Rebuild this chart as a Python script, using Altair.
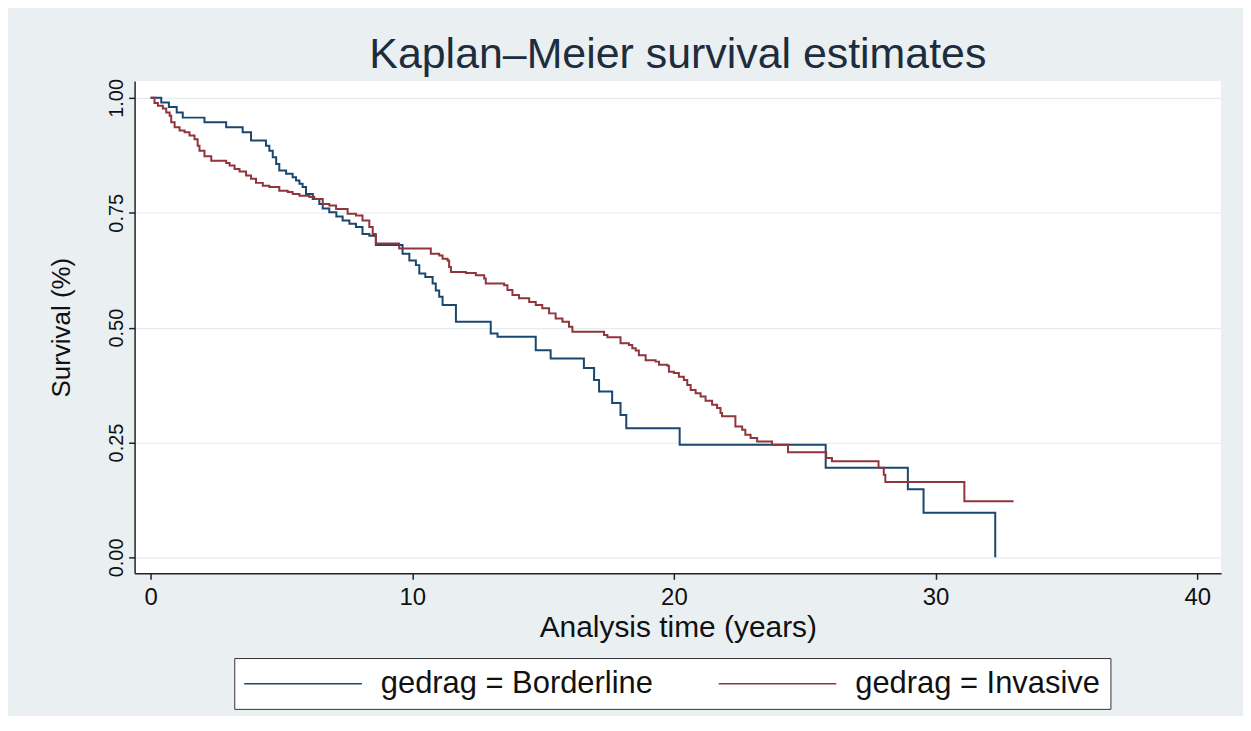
import altair as alt
import pandas as pd

# Borderline (blue) Kaplan-Meier steps
border_t = [0, 0.41, 0.7, 1.0, 1.23, 2.06, 2.89, 3.52, 3.84, 4.41, 4.54, 4.67, 4.8, 4.92,
            5.18, 5.43, 5.56, 5.69, 5.81, 5.94, 6.2, 6.45, 6.58, 6.83, 7.1, 7.34, 7.6, 7.85,
            8.1, 8.36, 8.61, 9.63, 9.89, 10.14, 10.27, 10.5, 10.78, 10.9, 11.03, 11.16, 11.67,
            13.0, 13.26, 14.72, 15.29, 16.56, 16.95, 17.14, 17.64, 17.96, 18.18, 20.22, 25.8,
            28.94, 29.54, 32.28]
border_s = [1.0, 0.99, 0.98, 0.968, 0.957, 0.947, 0.936, 0.925, 0.907, 0.896, 0.885, 0.871,
            0.856, 0.842, 0.835, 0.827, 0.82, 0.813, 0.806, 0.791, 0.78, 0.769, 0.759, 0.751,
            0.742, 0.733, 0.726, 0.719, 0.704, 0.70, 0.68, 0.661, 0.646, 0.636, 0.618, 0.61,
            0.596, 0.581, 0.567, 0.549, 0.513, 0.487, 0.48, 0.451, 0.433, 0.412, 0.386, 0.361,
            0.336, 0.31, 0.281, 0.245, 0.195, 0.148, 0.097, 0.0]

# Invasive (red) Kaplan-Meier steps
inv_t = [0, 0.15, 0.28, 0.47, 0.6, 0.73, 0.79, 0.92, 1.11, 1.3, 1.49, 1.68, 1.8, 1.87, 2.06,
         2.32, 2.89, 3.02, 3.21, 3.4, 3.65, 3.84, 4.03, 4.29, 4.54, 4.92, 5.24, 5.43, 5.69,
         6.07, 6.26, 6.58, 6.83, 7.09, 7.53, 7.85, 8.1, 8.36, 8.49, 8.61, 9.5, 10.71, 11.03,
         11.16, 11.35, 11.41, 11.48, 12.05, 12.43, 12.75, 12.81, 13.51, 13.64, 13.83, 14.08,
         14.47, 14.72, 14.97, 15.23, 15.48, 15.74, 15.99, 16.12, 17.33, 17.46, 17.96, 18.28,
         18.41, 18.54, 18.66, 18.92, 19.3, 19.43, 19.75, 19.81, 20.0, 20.19, 20.38, 20.51,
         20.64, 20.83, 21.02, 21.21, 21.46, 21.65, 21.78, 21.84, 22.35, 22.61, 22.73, 22.93,
         23.18, 23.75, 24.36, 25.82, 26.04, 27.82, 28.02, 28.08, 31.1, 32.98]
inv_s = [1.0, 0.989, 0.983, 0.977, 0.968, 0.961, 0.947, 0.936, 0.929, 0.925, 0.918, 0.91,
         0.896, 0.885, 0.873, 0.863, 0.858, 0.853, 0.845, 0.84, 0.831, 0.824, 0.815, 0.809,
         0.806, 0.798, 0.795, 0.791, 0.787, 0.784, 0.78, 0.769, 0.766, 0.758, 0.748, 0.744,
         0.733, 0.719, 0.704, 0.683, 0.672, 0.661, 0.657, 0.65, 0.646, 0.632, 0.621, 0.619,
         0.614, 0.607, 0.596, 0.592, 0.582, 0.571, 0.564, 0.556, 0.549, 0.542, 0.531, 0.52,
         0.513, 0.502, 0.491, 0.484, 0.479, 0.466, 0.462, 0.455, 0.45, 0.44, 0.429, 0.426,
         0.419, 0.417, 0.404, 0.401, 0.393, 0.386, 0.375, 0.364, 0.357, 0.35, 0.341, 0.332,
         0.325, 0.314, 0.307, 0.285, 0.278, 0.267, 0.26, 0.252, 0.245, 0.229, 0.216, 0.209,
         0.195, 0.18, 0.164, 0.122, 0.122]

groups = ["gedrag = Borderline", "gedrag = Invasive"]
colors = ["#1a476f", "#90353b"]
x_ticks = [0, 10, 20, 30, 40]
y_ticks = [0, 0.25, 0.5, 0.75, 1.0]

df = pd.concat([
    pd.DataFrame({"time": border_t, "surv": border_s, "group": groups[0], "order": range(len(border_t))}),
    pd.DataFrame({"time": inv_t, "surv": inv_s, "group": groups[1], "order": range(len(inv_t))}),
])

FONT = "Liberation Sans"

chart = alt.Chart(df).mark_line(interpolate="step-after", strokeWidth=2).encode(
    x=alt.X("time:Q",
            scale=alt.Scale(domain=[-0.61, 40.91], nice=False, zero=False),
            axis=alt.Axis(values=x_ticks, format="d", title="Analysis time (years)",
                          grid=False, labelFontSize=24, titleFontSize=30,
                          labelPadding=6, titlePadding=3, labelFlush=False)),
    y=alt.Y("surv:Q",
            scale=alt.Scale(domain=[-0.0347, 1.0369], nice=False, zero=False),
            axis=alt.Axis(values=y_ticks, format=".2f", title="Survival (%)",
                          grid=True, gridColor="#e4ecef", gridWidth=1.2,
                          labelAngle=270, labelAlign="center", labelBaseline="bottom",
                          labelFontSize=20, titleFontSize=26, labelPadding=2,
                          titlePadding=32, labelFlush=False)),
    color=alt.Color("group:N",
                    scale=alt.Scale(domain=groups, range=colors),
                    legend=alt.Legend(orient="none", legendX=100, legendY=579,
                                      direction="horizontal", columns=2, title=None,
                                      symbolType="M-11.8,0H11.8", symbolSize=100,
                                      symbolOffset=43.5,
                                      symbolStrokeWidth=1.5, labelFontSize=31,
                                      labelOffset=62.5, labelLimit=0, labelColor="#111",
                                      columnPadding=62, padding=10,
                                      fillColor="white", strokeColor="#333",
                                      labelFont=FONT)),
    order="order:Q",
).properties(
    width=1090,
    height=494,
    title=alt.TitleParams("Kaplan–Meier survival estimates", fontSize=43, font=FONT,
                          fontWeight="normal", color="#1e2d3e", anchor="middle", offset=2),
    autosize=alt.AutoSizeParams(type="none"),
    padding={"left": 127, "top": 72, "right": 22, "bottom": 142},
    background="#eaf0f2",
).configure_view(
    fill="white", strokeWidth=0
).configure_axis(
    labelFont=FONT, titleFont=FONT, labelColor="#111", titleColor="#111",
    titleFontWeight="normal", domainColor="#222", domainWidth=1.5,
    tickColor="#222", tickWidth=1.5, tickSize=6
)

chart.save("out.html", embed_options={"renderer": "svg", "actions": False})
